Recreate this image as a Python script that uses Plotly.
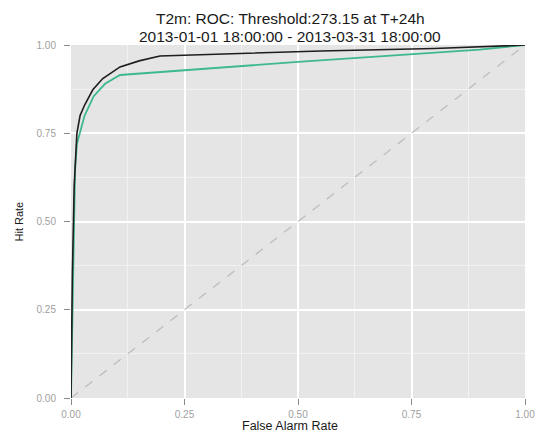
import plotly.graph_objects as go

# ROC curve points: false alarm rate vs hit rate
far_black = [0.0, 0.003, 0.007, 0.010, 0.013, 0.020, 0.030, 0.048, 0.070, 0.108, 0.150, 0.196, 0.300, 0.550, 0.800, 1.0]
hr_black = [0.0, 0.35, 0.60, 0.70, 0.75, 0.80, 0.83, 0.873, 0.905, 0.938, 0.955, 0.969, 0.973, 0.983, 0.990, 1.0]

far_green = [0.0, 0.005, 0.009, 0.013, 0.022, 0.030, 0.050, 0.075, 0.108, 0.500, 0.900, 1.0]
hr_green = [0.0, 0.40, 0.65, 0.72, 0.76, 0.80, 0.855, 0.89, 0.915, 0.952, 0.987, 1.0]

ticks = [0.0, 0.25, 0.5, 0.75, 1.0]
tick_text = ["0.00", "0.25", "0.50", "0.75", "1.00"]

title_lines = ["T2m: ROC: Threshold:273.15 at T+24h", "2013-01-01 18:00:00 - 2013-03-31 18:00:00"]
x_title = "False Alarm Rate"
y_title = "Hit Rate"

FONT = "Liberation Sans, Arial, sans-serif"

fig = go.Figure()
fig.add_trace(go.Scatter(x=[0, 1], y=[0, 1], mode="lines",
                         line=dict(color="#bdbdbd", width=1.3, dash="dash"), hoverinfo="skip"))
fig.add_trace(go.Scatter(x=far_green, y=hr_green, mode="lines",
                         line=dict(color="#3db891", width=1.8)))
fig.add_trace(go.Scatter(x=far_black, y=hr_black, mode="lines",
                         line=dict(color="#1e1e1e", width=1.6)))

axis_common = dict(
    range=[0, 1], tickvals=ticks, ticktext=tick_text,
    showgrid=True, gridcolor="white", gridwidth=1.6,
    zeroline=False, showline=False, automargin=False,
    ticks="outside", ticklen=6, tickwidth=1.2, tickcolor="#8a8a8a",
    tickfont=dict(family=FONT, size=10, color="#a0a0a0"),
    minor=dict(tickvals=[0.125, 0.375, 0.625, 0.875], showgrid=True,
               gridcolor="#f2f2f2", gridwidth=0.8, ticks=""),
    fixedrange=True,
)

fig.update_layout(
    width=538, height=434,
    margin=dict(l=71, r=13, t=45, b=36),
    paper_bgcolor="white", plot_bgcolor="#e5e5e5",
    showlegend=False,
    xaxis=dict(axis_common, ticklabelstandoff=1),
    yaxis=dict(axis_common, ticklabelstandoff=6),
)

title_x = (290 - 71) / 454
for text, shift in zip(title_lines, [27, 9]):
    fig.add_annotation(text=text, xref="paper", yref="paper", x=title_x, y=1,
                       xanchor="center", yanchor="middle", yshift=shift, showarrow=False,
                       borderpad=0, font=dict(family=FONT, size=15.5, color="#1a1a1a"))

fig.add_annotation(text=x_title, xref="paper", yref="paper", x=title_x, y=0,
                   xanchor="center", yanchor="middle", yshift=-28, showarrow=False,
                   borderpad=0, font=dict(family=FONT, size=12.5, color="#1a1a1a"))
fig.add_annotation(text=y_title, xref="paper", yref="paper", x=(18 - 71) / 454, y=0.5,
                   xanchor="center", yanchor="middle", textangle=-90, showarrow=False,
                   borderpad=0, font=dict(family=FONT, size=11, color="#1a1a1a"))

fig.write_html("out.html")
